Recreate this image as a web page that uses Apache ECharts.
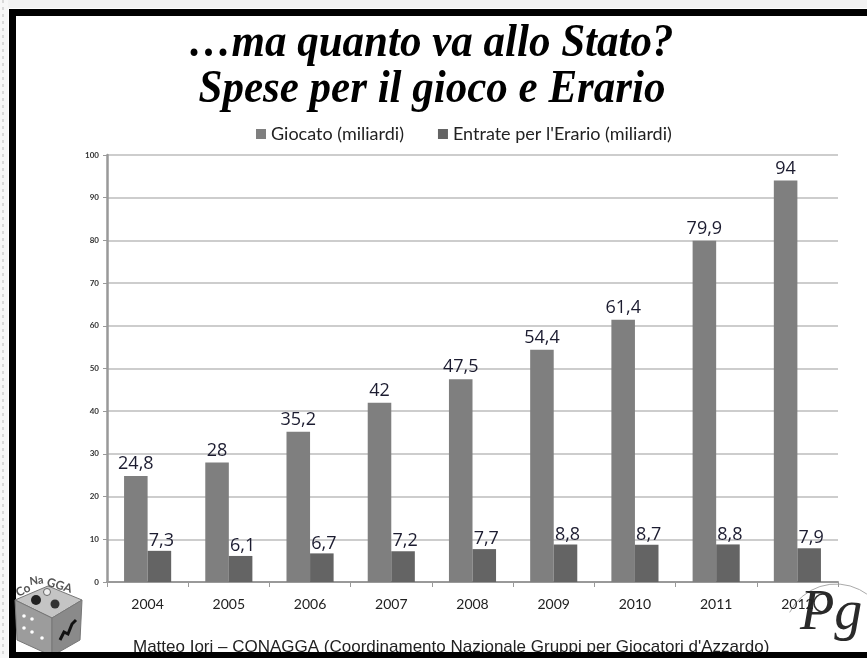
<!DOCTYPE html>
<html>
<head>
<meta charset="utf-8">
<script src="https://cdn.jsdelivr.net/npm/echarts@6/dist/echarts.min.js"></script>
<style>
  html, body { margin: 0; padding: 0; background: #fff; }
  #chart { width: 867px; height: 658px; }
</style>
</head>
<body>
<div id="chart"></div>
<script>
var years = ['2004', '2005', '2006', '2007', '2008', '2009', '2010', '2011', '2012'];
var giocato = [24.8, 28, 35.2, 42, 47.5, 54.4, 61.4, 79.9, 94];
var erario = [7.3, 6.1, 6.7, 7.2, 7.7, 8.8, 8.7, 8.8, 7.9];
var yTicks = [0, 10, 20, 30, 40, 50, 60, 70, 80, 90, 100];

var sans = 'Lato, "Open Sans", sans-serif';
var serif = '"Liberation Serif", serif';
var comma = function (p) { return String(p.value).replace('.', ','); };

var myChart = echarts.init(document.getElementById('chart'));
myChart.setOption({
  animation: false,
  backgroundColor: '#fff',
  legend: {
    top: 120, left: 251,
    itemWidth: 10, itemHeight: 10, itemGap: 34,
    icon: 'rect',
    textStyle: { fontFamily: sans, fontSize: 18, color: '#222', padding: [0, 0, 0, 0] },
    data: ['Giocato (miliardi)', 'Entrate per l\'Erario (miliardi)']
  },
  grid: { left: 107, right: 29, top: 155, bottom: 76 },
  xAxis: {
    type: 'category',
    data: years,
    axisLine: { lineStyle: { color: '#999', width: 2 } },
    axisTick: { show: true, length: 5, lineStyle: { color: '#999' } },
    axisLabel: { fontFamily: sans, fontSize: 14, color: '#222', margin: 15 }
  },
  yAxis: {
    type: 'value',
    min: 0, max: 100, interval: 10,
    axisLine: { show: true, lineStyle: { color: '#999', width: 2.5 } },
    axisTick: { show: true, length: 4, lineStyle: { color: '#999' } },
    splitLine: { lineStyle: { color: '#bdbdbd', width: 1.5 } },
    axisLabel: {
      fontFamily: sans, fontSize: 8, fontWeight: 'bold', color: '#333', margin: 8,
      formatter: function (v) { return yTicks.indexOf(v) >= 0 ? String(v) : ''; }
    }
  },
  series: [
    {
      name: 'Giocato (miliardi)',
      type: 'bar',
      data: giocato,
      barGap: '0%',
      barCategoryGap: '42%',
      itemStyle: { color: '#7f7f7f' },
      label: { show: true, position: 'top', distance: 3, fontFamily: '"Open Sans", sans-serif', fontSize: 18, color: '#1c1c30', formatter: comma }
    },
    {
      name: 'Entrate per l\'Erario (miliardi)',
      type: 'bar',
      data: erario,
      itemStyle: { color: '#646464' },
      label: { show: true, position: 'top', distance: 1, offset: [2, 0], fontFamily: '"Open Sans", sans-serif', fontSize: 18, color: '#1c1c30', formatter: comma }
    }
  ],
  graphic: [
    // slide frame
    { type: 'rect', shape: { x: 0, y: 0, width: 867, height: 8 }, style: { fill: '#f2f2f2' }, silent: true },
    { type: 'rect', shape: { x: 0, y: 0, width: 8, height: 658 }, style: { fill: '#f7f7f7' }, silent: true },
    { type: 'line', shape: { x1: 3, y1: 0, x2: 3, y2: 658 }, style: { stroke: '#bbb', lineDash: [3, 4], lineWidth: 1 }, silent: true },
    { type: 'rect', shape: { x: 9, y: 9, width: 870, height: 7 }, style: { fill: '#000' }, silent: true },
    { type: 'rect', shape: { x: 9, y: 9, width: 7, height: 660 }, style: { fill: '#000' }, silent: true },
    // titles
    {
      type: 'text', x: 431, y: 44, scaleY: 1.08, silent: true,
      style: { text: '…ma quanto va allo Stato?', align: 'center', verticalAlign: 'middle', fontFamily: serif, fontStyle: 'italic', fontWeight: 'bold', fontSize: 43, fill: '#000' }
    },
    {
      type: 'text', x: 432, y: 90, scaleY: 1.08, silent: true,
      style: { text: 'Spese per il gioco e Erario', align: 'center', verticalAlign: 'middle', fontFamily: serif, fontStyle: 'italic', fontWeight: 'bold', fontSize: 43, fill: '#000' }
    },
    // footer text
    {
      type: 'text', x: 133, y: 647, silent: true,
      style: { text: 'Matteo Iori – CONAGGA (Coordinamento Nazionale Gruppi per Giocatori d\'Azzardo)', verticalAlign: 'middle', fontFamily: '"Liberation Sans", sans-serif', fontSize: 17, fill: '#222' }
    },
    // left logo (cube)
    {
      type: 'group', x: 0, y: 0, silent: true,
      children: [
        { type: 'polygon', shape: { points: [[15, 600], [48, 586], [82, 600], [52, 618]] }, style: { fill: '#c4c4c4', stroke: '#777', lineWidth: 1 } },
        { type: 'polygon', shape: { points: [[15, 600], [52, 618], [52, 656], [17, 640]] }, style: { fill: '#9c9c9c', stroke: '#777', lineWidth: 1 } },
        { type: 'polygon', shape: { points: [[52, 618], [82, 600], [80, 640], [52, 656]] }, style: { fill: '#8a8a8a', stroke: '#777', lineWidth: 1 } },
        { type: 'circle', shape: { cx: 36, cy: 600, r: 5 }, style: { fill: '#222' } },
        { type: 'circle', shape: { cx: 55, cy: 604, r: 4.5 }, style: { fill: '#333' } },
        { type: 'circle', shape: { cx: 47, cy: 592, r: 3.5 }, style: { fill: '#eee', stroke: '#666' } },
        { type: 'circle', shape: { cx: 24, cy: 616, r: 1.8 }, style: { fill: '#fff' } },
        { type: 'circle', shape: { cx: 32, cy: 619, r: 1.8 }, style: { fill: '#fff' } },
        { type: 'circle', shape: { cx: 24, cy: 628, r: 1.8 }, style: { fill: '#fff' } },
        { type: 'circle', shape: { cx: 32, cy: 632, r: 1.8 }, style: { fill: '#fff' } },
        { type: 'circle', shape: { cx: 42, cy: 638, r: 1.8 }, style: { fill: '#fff' } },
        { type: 'polyline', shape: { points: [[60, 640], [64, 632], [68, 634], [72, 624], [76, 620]] }, style: { stroke: '#111', lineWidth: 3 } },
        { type: 'text', x: 14, y: 588, rotation: 0.45, style: { text: 'Co', fontFamily: sans, fontWeight: 'bold', fontSize: 12, fill: '#555' } },
        { type: 'text', x: 29, y: 576, rotation: 0.12, style: { text: 'Na', fontFamily: sans, fontWeight: 'bold', fontSize: 11, fill: '#555' } },
        { type: 'text', x: 49, y: 576, rotation: -0.3, style: { text: 'GGA', fontFamily: sans, fontWeight: 'bold', fontSize: 12, fill: '#555' } }
      ]
    },
    // right logo (Pg)
    {
      type: 'group', x: 0, y: 0, silent: true,
      children: [
        { type: 'arc', shape: { cx: 836, cy: 636, r: 52, startAngle: Math.PI * 1.15, endAngle: Math.PI * 1.75 }, style: { stroke: '#aaa', lineWidth: 1, fill: null } },
        { type: 'circle', shape: { cx: 823, cy: 603, r: 9 }, style: { stroke: '#333', lineWidth: 1.5, fill: null } },
        { type: 'text', x: 800, y: 586, style: { text: 'Pg', fontFamily: serif, fontStyle: 'italic', fontSize: 56, fill: '#2a2a2a' } }
      ]
    },
    { type: 'rect', shape: { x: 9, y: 652, width: 870, height: 8 }, style: { fill: '#000' }, silent: true }
  ]
});
</script>
</body>
</html>
